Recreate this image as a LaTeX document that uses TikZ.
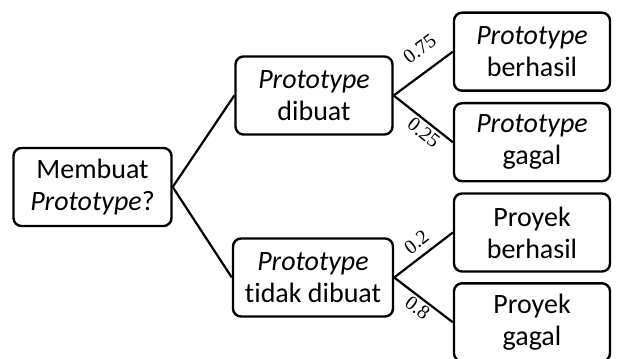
\documentclass[tikz,border=0pt]{standalone}
\usepackage{fontspec}
\setmainfont{Carlito}[Ligatures=NoCommon]
\newfontfamily\probfont{Liberation Serif}

\begin{document}
\begin{tikzpicture}[x=1pt,y=-1pt,
  box/.style={draw, line width=2.4pt, rounded corners=8pt,
    minimum height=78pt, align=center, inner sep=0pt,
    font=\fontsize{28}{32}\selectfont},
  link/.style={line width=2.2pt},
  prob/.style={font={\probfont\fontsize{20}{20}\selectfont}, sloped, inner sep=0pt}]
\useasboundingbox (0,0) rectangle (617,358);

% decision and chance nodes
\node[box, minimum width=158pt] (root) at (92.5,187) {Membuat\\\textit{Prototype}?};
\node[box, minimum width=157pt] (made) at (314,95.5) {\textit{Prototype}\\dibuat};
\node[box, minimum width=160pt] (notmade) at (313,277.5) {\textit{Prototype}\\tidak dibuat};

% outcomes
\node[box, minimum width=156pt] (ok1) at (532,51.7) {\textit{Prototype}\\berhasil};
\node[box, minimum width=156pt] (fail1) at (532,142.2) {\textit{Prototype}\\gagal};
\node[box, minimum width=156pt] (ok2) at (532,232.5) {Proyek\\berhasil};
\node[box, minimum width=156pt] (fail2) at (532,322.3) {Proyek\\gagal};

% branches
\draw[link] (root.east) -- (made.west);
\draw[link] (root.east) -- (notmade.west);
\draw[link] (made.east) -- node[prob, pos=0.66, above=14pt] {0.75} (ok1.west);
\draw[link] (made.east) -- node[prob, pos=0.62, below=2.6pt] {0.25} (fail1.west);
\draw[link] (notmade.east) -- node[prob, pos=0.53, above=6.5pt] {0.2} (ok2.west);
\draw[link] (notmade.east) -- node[prob, pos=0.5, below=2pt] {0.8} (fail2.west);
\end{tikzpicture}
\end{document}
